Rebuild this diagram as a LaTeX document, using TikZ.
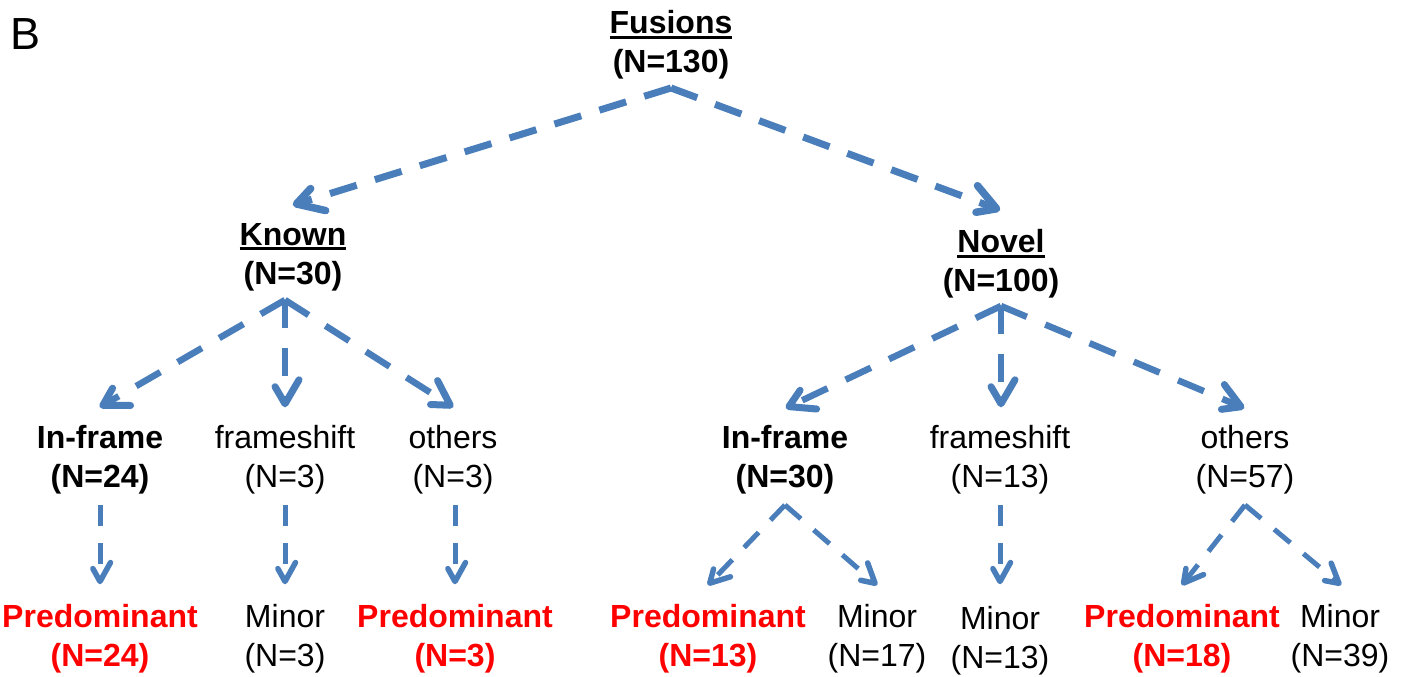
\documentclass[tikz,border=0pt]{standalone}
\usepackage{fontspec}
\setmainfont{Liberation Sans}
\usetikzlibrary{decorations.markings}
\definecolor{arrblue}{RGB}{74,126,187}
\definecolor{pred}{RGB}{255,0,0}
\newcommand\ulbox[1]{\setbox0\hbox{#1}\rlap{\rule[-5pt]{\wd0}{3pt}}\box0}
\tikzset{
  lbl/.style={align=center, inner sep=0pt, font=\fontsize{32}{39}\selectfont},
  bl/.style={lbl, font=\fontsize{32}{39}\selectfont\bfseries},
  rd/.style={bl, text=pred},
  vhead/.style n args={4}{postaction={decorate}, decoration={markings,
     mark=at position 1 with {\draw[solid, line width=#3, arrblue, line cap=round, line join=round]
        (-#4-#1,#2) -- (-#4,0pt) -- (-#4-#1,-#2);}}},
  arrA/.style={draw=arrblue, line width=7pt, dash pattern=on 28pt off 19pt,
     shorten >=9pt, vhead={26pt}{15pt}{7.5pt}{3.5pt}},
  arrB/.style={draw=arrblue, line width=6.5pt, dash pattern=on 28pt off 20pt,
     shorten >=8pt, vhead={24pt}{14pt}{7pt}{3.2pt}},
  arrC/.style={draw=arrblue, line width=5pt, dash pattern=on 21pt off 17pt,
     shorten >=7pt, vhead={19pt}{10.5pt}{5.5pt}{2.5pt}},
}
\begin{document}
\begin{tikzpicture}[x=1pt,y=-1pt]
\useasboundingbox (0,0) rectangle (1408,677);
\node[anchor=base west, inner sep=0pt, font=\fontsize{45}{48}\selectfont] (lblB) at (10,49) {B};
% level 0
\node[bl] (fus) at (671,45) {\ulbox{Fusions}\\(N=130)};
% level 1
\node[bl] (known) at (293,257) {\ulbox{Known}\\(N=30)};
\node[bl] (novel) at (1001,264) {\ulbox{Novel}\\(N=100)};
% level 2
\node[bl] (kin) at (100,460) {In-frame\\(N=24)};
\node[lbl] (kfs) at (285,460) {frameshift\\(N=3)};
\node[lbl] (kot) at (453,460) {others\\(N=3)};
\node[bl] (nin) at (785,460) {In-frame\\(N=30)};
\node[lbl] (nfs) at (1000,460) {frameshift\\(N=13)};
\node[lbl] (not) at (1245,460) {others\\(N=57)};
% level 3
\node[rd] (kinp) at (100,639) {Predominant\\(N=24)};
\node[lbl] (kfsm) at (285,639) {Minor\\(N=3)};
\node[rd] (kotp) at (455,639) {Predominant\\(N=3)};
\node[rd] (ninp) at (708,639) {Predominant\\(N=13)};
\node[lbl] (ninm) at (877,639) {Minor\\(N=17)};
\node[lbl] (nfsm) at (1000,641) {Minor\\(N=13)};
\node[rd] (notp) at (1182,639) {Predominant\\(N=18)};
\node[lbl] (notm) at (1340,639) {Minor\\(N=39)};
% connector points
\coordinate (fusA) at (671,88);
\coordinate (knownT) at (293,205);
\coordinate (novelT) at (1000,210);
\coordinate (knownA) at (285,300);
\coordinate (kinT) at (100,407);
\coordinate (kfsT) at (285,407);
\coordinate (kotT) at (453,407);
\coordinate (novelA) at (1001,306);
\coordinate (ninT) at (786,408);
\coordinate (nfsT) at (1001,407);
\coordinate (notT) at (1244,408);
\coordinate (kinA) at (100,505);
\coordinate (kinpT) at (100,584);
\coordinate (kfsA) at (285,505);
\coordinate (kfsmT) at (285,584);
\coordinate (kotA) at (455,505);
\coordinate (kotpT) at (455,584);
\coordinate (ninA) at (785,505);
\coordinate (ninpT) at (708,585);
\coordinate (ninmT) at (877,585);
\coordinate (nfsA) at (1000,505);
\coordinate (nfsmT) at (1000,584);
\coordinate (notA) at (1245,505);
\coordinate (notpT) at (1182,585);
\coordinate (notmT) at (1341,585);
% connectors
\draw[arrA] (fusA) -- (knownT);
\draw[arrA] (fusA) -- (novelT);
\draw[arrB] (knownA) -- (kinT);
\draw[arrB] (knownA) -- (kfsT);
\draw[arrB] (knownA) -- (kotT);
\draw[arrB] (novelA) -- (ninT);
\draw[arrB] (novelA) -- (nfsT);
\draw[arrB] (novelA) -- (notT);
\draw[arrC] (kinA) -- (kinpT);
\draw[arrC] (kfsA) -- (kfsmT);
\draw[arrC] (kotA) -- (kotpT);
\draw[arrC] (ninA) -- (ninpT);
\draw[arrC] (ninA) -- (ninmT);
\draw[arrC] (nfsA) -- (nfsmT);
\draw[arrC] (notA) -- (notpT);
\draw[arrC] (notA) -- (notmT);
\end{tikzpicture}
\end{document}
